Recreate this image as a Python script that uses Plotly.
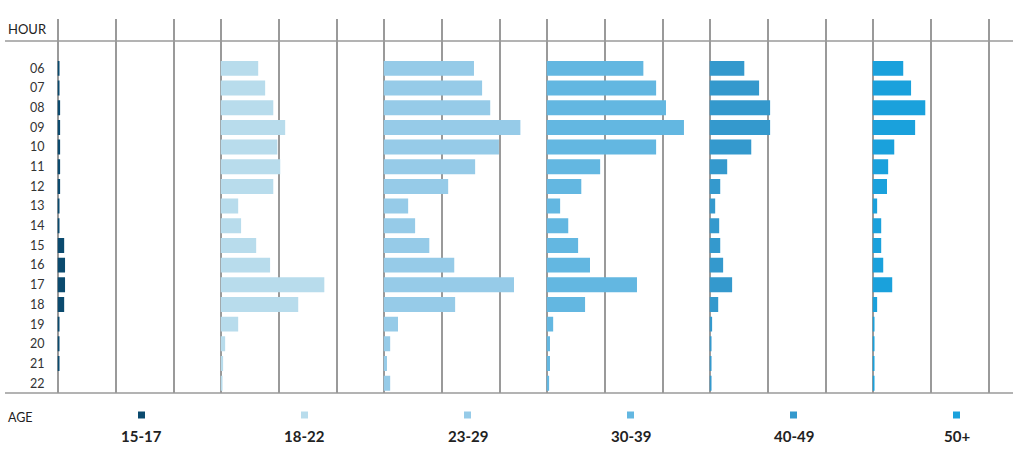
import plotly.graph_objects as go

hours = ["06", "07", "08", "09", "10", "11", "12", "13", "14", "15", "16", "17", "18", "19", "20", "21", "22"]
age_groups = ["15-17", "18-22", "23-29", "30-39", "40-49", "50+"]
colors = ["#0b4a6e", "#b8dcec", "#96cbe8", "#63b7e1", "#3499cd", "#1aa1dc"]

v_15_17 = [0.3, 0.3, 0.45, 0.45, 0.45, 0.45, 0.45, 0.3, 0.3, 1.15, 1.3, 1.3, 1.15, 0.3, 0.3, 0.3, 0]
v_18_22 = [6.5, 7.7, 9.1, 11.15, 9.8, 10.3, 9.1, 3.05, 3.55, 6.15, 8.55, 17.9, 13.4, 3.05, 0.8, 0.45, 0.3]
v_23_29 = [15.6, 17.0, 18.4, 23.6, 19.9, 15.8, 11.15, 4.25, 5.45, 7.9, 12.2, 22.5, 12.35, 2.5, 1.15, 0.6, 1.15]
v_30_39 = [16.7, 18.9, 20.6, 23.7, 18.9, 9.25, 6.0, 2.35, 3.75, 5.45, 7.5, 15.6, 6.65, 1.15, 0.6, 0.6, 0.45]
v_40_49 = [6.0, 8.55, 10.45, 10.45, 7.2, 3.05, 1.85, 0.98, 1.67, 1.85, 2.35, 3.9, 1.5, 0.45, 0.3, 0.3, 0.3]
v_50p = [5.3, 6.65, 9.1, 7.35, 3.75, 2.7, 2.5, 0.8, 1.5, 1.5, 1.85, 3.4, 0.8, 0.3, 0.3, 0.3, 0.3]
series = [v_15_17, v_18_22, v_23_29, v_30_39, v_40_49, v_50p]

W, H = 1027, 463
X0, PW = 57.5, 163.0
GRID_PX = 58.0
top_px, bot_px = 19, 393
FONT = "Lato"
GRID = "#9a9a9a"

def px_x(p):
    return p / W

def px_y(p):
    return 1 - p / H

fig = go.Figure()
layout = dict(
    width=W, height=H, autosize=False,
    margin=dict(l=0, r=0, t=0, b=0),
    paper_bgcolor="white", plot_bgcolor="white",
    showlegend=False, bargap=0.24,
    font=dict(family=FONT, color="#222222"),
    shapes=[], annotations=[],
)

for k, (name, vals, col) in enumerate(zip(age_groups, series, colors)):
    suffix = "" if k == 0 else str(k + 1)
    left = X0 + k * PW
    right = min(left + PW, W)
    x_max = (right - left) / GRID_PX * 10
    fig.add_trace(go.Bar(
        x=vals, y=hours, orientation="h",
        marker=dict(color=col, line=dict(width=0)),
        name=name,
        xaxis="x" + suffix, yaxis="y" + suffix,
    ))
    layout["xaxis" + suffix] = dict(
        domain=[px_x(left), px_x(right)],
        range=[0, x_max], dtick=10, tick0=0,
        showgrid=True, gridcolor=GRID, gridwidth=1.5,
        zeroline=True, zerolinecolor=GRID, zerolinewidth=1.5,
        showticklabels=False, ticks="", showline=False, fixedrange=True,
    )
    layout["yaxis" + suffix] = dict(
        domain=[px_y(bot_px), px_y(top_px)],
        anchor="x" + suffix,
        type="category", categoryorder="array", categoryarray=hours,
        range=[16.5, -2.51],
        showgrid=False, zeroline=False, showline=False, ticks="",
        showticklabels=(k == 0),
        tickfont=dict(family=FONT, size=12.5, color="#333333"),
        ticklabelstandoff=12,
        fixedrange=True,
    )
    cx = left + 84
    layout["shapes"].append(dict(
        type="rect", xref="paper", yref="paper",
        x0=px_x(cx - 3.5), x1=px_x(cx + 3.5),
        y0=px_y(418.5), y1=px_y(411.5),
        fillcolor=col, line=dict(width=0),
    ))
    layout["annotations"].append(dict(
        text="<b>" + name + "</b>", xref="paper", yref="paper",
        x=px_x(cx), y=px_y(435.5), xanchor="center", yanchor="middle",
        showarrow=False, font=dict(family=FONT, size=15, color="#222222"),
    ))

for ypx in (41, 393):
    layout["shapes"].append(dict(
        type="line", xref="paper", yref="paper",
        x0=px_x(5), x1=px_x(1013), y0=px_y(ypx), y1=px_y(ypx),
        line=dict(color=GRID, width=1.5),
    ))

layout["annotations"].append(dict(
    text="HOUR", xref="paper", yref="paper", x=px_x(6), y=px_y(29),
    xanchor="left", yanchor="middle", showarrow=False,
    font=dict(family=FONT, size=13, color="#222222"),
))
layout["annotations"].append(dict(
    text="AGE", xref="paper", yref="paper", x=px_x(6), y=px_y(417),
    xanchor="left", yanchor="middle", showarrow=False,
    font=dict(family=FONT, size=12.5, color="#222222"),
))

fig.update_layout(**layout)
fig.write_html(
    "out.html",
    config={"displayModeBar": False},
    post_script="document.body.style.margin='0';document.body.style.overflow='hidden';",
)
